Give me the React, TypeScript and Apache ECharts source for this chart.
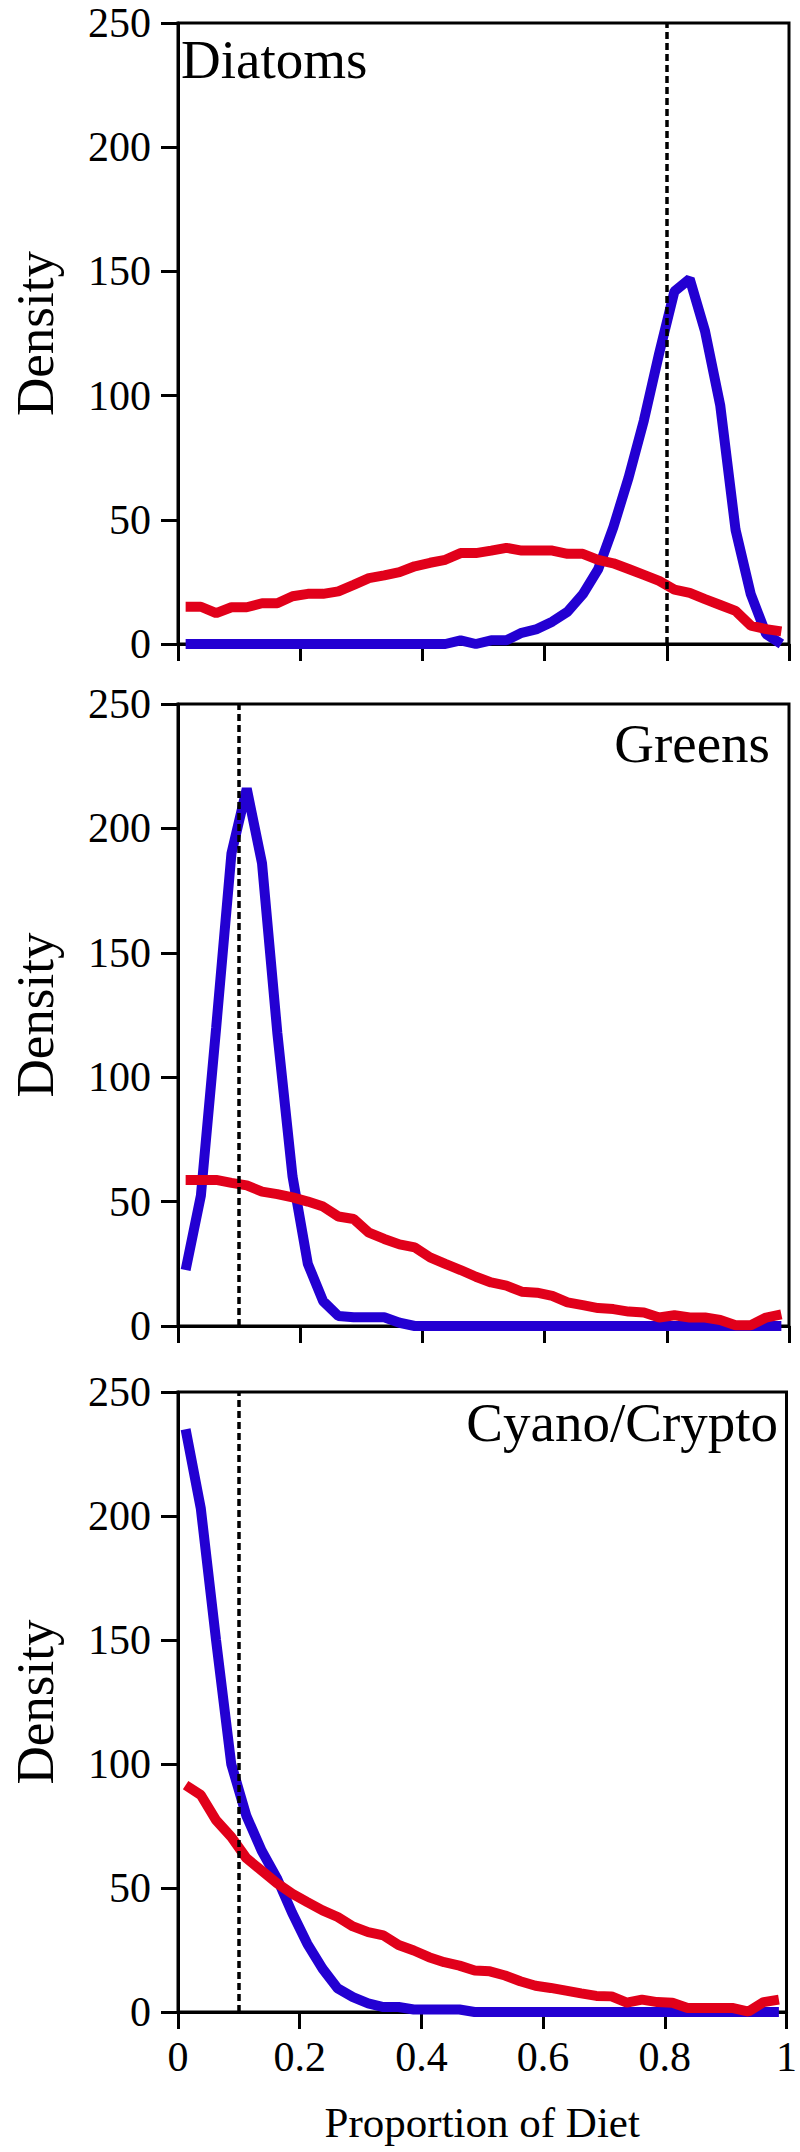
import React, { useEffect, useRef } from "react";
import * as echarts from "echarts";

// Bin centres of the proportion-of-diet axis
const proportion = [
  0.0125, 0.0375, 0.0625, 0.0875, 0.1125, 0.1375, 0.1625, 0.1875, 0.2125, 0.2375,
  0.2625, 0.2875, 0.3125, 0.3375, 0.3625, 0.3875, 0.4125, 0.4375, 0.4625, 0.4875,
  0.5125, 0.5375, 0.5625, 0.5875, 0.6125, 0.6375, 0.6625, 0.6875, 0.7125, 0.7375,
  0.7625, 0.7875, 0.8125, 0.8375, 0.8625, 0.8875, 0.9125, 0.9375, 0.9625, 0.9875,
];

const panelNames = ["Diatoms", "Greens", "Cyano/Crypto"];
const referenceLines = [0.8, 0.1, 0.1];

// Posterior (blue) densities
const diatomsBlue = [
  0, 0, 0, 0, 0, 0, 0, 0, 0, 0,
  0, 0, 0, 0, 0, 0, 0, 0, 1.5, 0,
  1.5, 1.5, 4.5, 6, 9, 13, 20, 30, 47, 67,
  90, 117, 142, 147, 126, 96, 46, 20, 4, 0,
];
const greensBlue = [
  22.5, 52.5, 120, 190, 216, 186, 118, 60, 25, 10,
  4, 3.5, 3.5, 3.5, 1.3, 0, 0, 0, 0, 0,
  0, 0, 0, 0, 0, 0, 0, 0, 0, 0,
  0, 0, 0, 0, 0, 0, 0, 0, 0, 0,
];
const cyanoBlue = [
  235, 203, 150, 100, 79, 65, 54, 40, 27.5, 17.5,
  9.5, 6, 3.5, 2, 2, 1, 1, 1, 1, 0,
  0, 0, 0, 0, 0, 0, 0, 0, 0, 0,
  0, 0, 0, 0, 0, 0, 0, 0, 0, 0,
];

// Prior (red) densities
const diatomsRed = [
  15, 15, 12.4, 14.8, 14.8, 16.4, 16.4, 19.2, 20.2, 20.2,
  21.2, 23.8, 26.5, 27.6, 28.9, 31.3, 32.7, 33.9, 36.6, 36.6,
  37.6, 38.7, 37.6, 37.6, 37.6, 36.3, 36.3, 33.9, 32.5, 30.2,
  27.8, 25.4, 21.9, 20.6, 18.1, 15.7, 13.3, 7.4, 6, 5.1,
];
const greensRed = [
  58.7, 58.7, 58.7, 57.5, 56.5, 54, 53, 51.7, 50, 48,
  44, 43, 37.5, 35, 32.8, 31.6, 27.6, 25, 22.5, 19.8,
  17.5, 16.2, 13.8, 13.4, 12.1, 9.5, 8.4, 7.2, 6.8, 5.8,
  5.4, 3.4, 4.3, 3.4, 3.4, 2.4, 0.3, 0.3, 3.4, 4.7,
];
const cyanoRed = [
  91.5, 87.5, 77.4, 70.6, 62, 57, 52, 47.7, 44.3, 41,
  38.3, 34.5, 32.2, 30.9, 27, 24.8, 22.1, 20.1, 18.7, 16.7,
  16.4, 14.7, 12.4, 10.6, 9.7, 8.6, 7.5, 6.5, 6.3, 3.8,
  5, 4, 3.7, 1.6, 1.6, 1.6, 1.6, 0.2, 4, 5,
];

const xTicks = [0, 0.2, 0.4, 0.6, 0.8, 1];
const yTicks = [0, 50, 100, 150, 200, 250];

const blueSeries = [diatomsBlue, greensBlue, cyanoBlue];
const redSeries = [diatomsRed, greensRed, cyanoRed];

const FONT = "Liberation Serif, Times New Roman, serif";
const BLUE = "#2300D2";
const RED = "#E1001A";

const gridBoxes = [
  { top: 23, height: 621 },
  { top: 704, height: 622 },
  { top: 1392, height: 620 },
];

const titlePlaces = [
  { x: 181, y: 59.5, align: "left" },
  { x: 770, y: 743.5, align: "right" },
  { x: 778, y: 1422.5, align: "right" },
];

export default function App() {
  const ref = useRef<HTMLDivElement>(null);

  useEffect(() => {
    if (!ref.current) return;
    const chart = echarts.init(ref.current, undefined, { renderer: "svg" });

    const grid = gridBoxes.map((g) => ({
      left: 169,
      width: 620,
      top: g.top,
      height: g.height,
      show: true,
      borderColor: "#000",
      borderWidth: 3,
      backgroundColor: "transparent",
    }));

    const xAxis = gridBoxes.map((_, i) => ({
      type: "value",
      gridIndex: i,
      min: xTicks[0],
      max: xTicks[xTicks.length - 1],
      interval: 0.2,
      splitLine: { show: false },
      axisLine: { show: true, lineStyle: { color: "#000", width: 3 } },
      axisTick: { show: true, inside: false, length: 17, lineStyle: { color: "#000", width: 3 } },
      axisLabel: {
        show: i === 2,
        fontFamily: FONT,
        fontSize: 42,
        color: "#000",
        margin: 24,
        formatter: (v: number) => String(Math.round(v * 10) / 10),
      },
      name: i === 2 ? "Proportion of Diet" : "",
      nameLocation: "middle",
      nameGap: 89,
      nameTextStyle: { fontFamily: FONT, fontSize: 43, color: "#000" },
    }));

    const yAxis = gridBoxes.map((_, i) => ({
      type: "value",
      gridIndex: i,
      min: yTicks[0],
      max: yTicks[yTicks.length - 1],
      interval: 50,
      splitLine: { show: false },
      axisLine: { show: true, lineStyle: { color: "#000", width: 3 } },
      axisTick: { show: true, inside: false, length: 17, lineStyle: { color: "#000", width: 3 } },
      axisLabel: {
        fontFamily: FONT,
        fontSize: 42,
        color: "#000",
        margin: 27,
      },
      name: "Density",
      nameLocation: "middle",
      nameRotate: 90,
      nameGap: 117,
      nameTextStyle: { fontFamily: FONT, fontSize: 53, color: "#000" },
    }));

    const series: any[] = [];
    gridBoxes.forEach((_, i) => {
      series.push({
        type: "line",
        name: panelNames[i] + " posterior",
        xAxisIndex: i,
        yAxisIndex: i,
        data: proportion.map((x, k) => [x, blueSeries[i][k]]),
        symbol: "none",
        showSymbol: false,
        lineStyle: { color: BLUE, width: 10 },
        itemStyle: { color: BLUE },
        z: 2,
        silent: true,
      });
      series.push({
        type: "line",
        name: panelNames[i] + " prior",
        xAxisIndex: i,
        yAxisIndex: i,
        data: proportion.map((x, k) => [x, redSeries[i][k]]),
        symbol: "none",
        showSymbol: false,
        lineStyle: { color: RED, width: 10 },
        itemStyle: { color: RED },
        z: 3,
        silent: true,
        markLine: {
          silent: true,
          symbol: "none",
          label: { show: false },
          lineStyle: { color: "#000", type: [7, 4], width: 3.5 },
          data: [{ xAxis: referenceLines[i] }],
        },
      });
    });

    const graphic = panelNames.map((t, i) => ({
      type: "text",
      x: titlePlaces[i].x,
      y: titlePlaces[i].y,
      z: 10,
      style: {
        text: t,
        fontFamily: FONT,
        fontSize: 55,
        fill: "#000",
        textAlign: titlePlaces[i].align,
        textVerticalAlign: "middle",
      },
    }));

    chart.setOption({
      animation: false,
      backgroundColor: "#fff",
      textStyle: { fontFamily: FONT },
      grid,
      xAxis,
      yAxis,
      series,
      graphic,
    });

    return () => chart.dispose();
  }, []);

  return (
    <div
      ref={ref}
      style={{ position: "absolute", left: 0, top: 0, width: 800, height: 2152 }}
    />
  );
}
